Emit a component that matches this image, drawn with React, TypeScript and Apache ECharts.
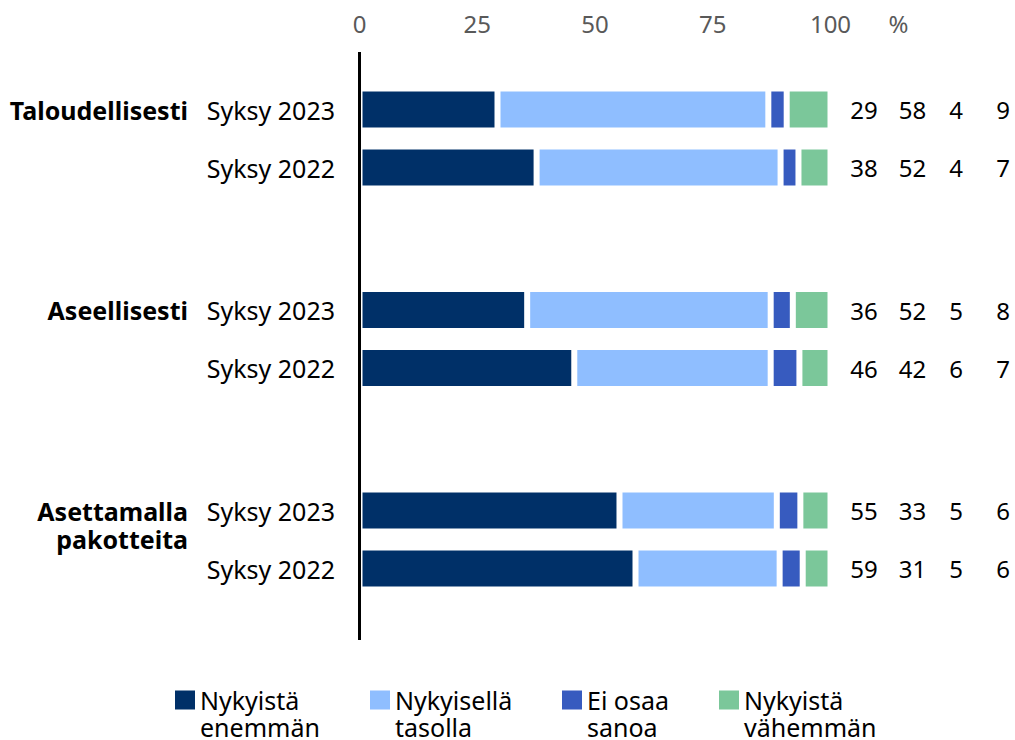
import React, { useEffect, useRef } from "react";
import * as echarts from "echarts";

// ---- data ----
const groups = ["Taloudellisesti", "Aseellisesti", "Asettamalla\npakotteita"];
const periods = ["Syksy 2023", "Syksy 2022"];
const seriesNames = ["Nykyistä\nenemmän", "Nykyisellä\ntasolla", "Ei osaa\nsanoa", "Nykyistä\nvähemmän"];
const colors = ["#003068", "#8fbeff", "#375bbf", "#7bc79a"];
// rows: [group0 2023, group0 2022, group1 2023, group1 2022, group2 2023, group2 2022]
const nykyistaEnemman = [29.3, 37.6, 35.6, 45.6, 55.2, 58.6];
const nykyisellaTasolla = [57.5, 51.8, 51.7, 41.7, 33.4, 30.6];
const eiOsaaSanoa = [3.9, 3.8, 4.7, 6.1, 5.0, 4.9];
const nykyistaVahemman = [9.3, 6.8, 8.0, 6.6, 6.4, 5.9];
const tickValues = [0, 25, 50, 75, 100];
const unitLabel = "%";

const seriesValues = [nykyistaEnemman, nykyisellaTasolla, eiOsaaSanoa, nykyistaVahemman];

const FONT = '"Noto Sans", sans-serif';

export default function App() {
  const ref = useRef<HTMLDivElement>(null);

  useEffect(() => {
    if (!ref.current) return;
    const chart = echarts.init(ref.current, null, { renderer: "svg" });

    const gridLeft = 359.5;
    const gridWidth = 471;
    const gridTops = [80.5, 281, 481.5];
    const gridHeight = 116;

    const grids = gridTops.map((t) => ({ left: gridLeft, top: t, width: gridWidth, height: gridHeight }));

    const xAxes = gridTops.map((_, g) => ({
      gridIndex: g,
      type: "value",
      min: 0,
      max: 100,
      interval: 25,
      position: "top",
      show: g === 0,
      axisLine: { show: false },
      axisTick: { show: false },
      splitLine: { show: false },
      axisLabel: {
        show: g === 0,
        margin: 57.5,
        verticalAlign: "middle",
        color: "#595959",
        fontSize: 24,
        fontFamily: FONT,
        customValues: tickValues,
      },
    }));

    const yAxes: any[] = [];
    gridTops.forEach((_, g) => {
      yAxes.push({
        gridIndex: g,
        type: "category",
        data: periods,
        inverse: true,
        position: "left",
        axisLine: { show: false },
        axisTick: { show: false },
        axisLabel: { margin: 24.5, color: "#000", fontSize: 25, fontFamily: FONT },
      });
      yAxes.push({
        gridIndex: g,
        type: "category",
        data: periods,
        inverse: true,
        position: "right",
        axisLine: { show: false },
        axisTick: { show: false },
        axisLabel: {
          margin: 9.5,
          color: "#000",
          fontSize: 24,
          fontFamily: FONT,
          formatter: (_v: string, i: number) => {
            const row = g * 2 + i;
            const vals = seriesValues.map((s) => Math.round(s[row]));
            return `{c1|${vals[0]}}{c2|${vals[1]}}{c3|${vals[2]}}{c4|${vals[3]}}`;
          },
          rich: {
            c1: { width: 48, align: "center", fontSize: 24, fontFamily: FONT, color: "#000" },
            c2: { width: 49, align: "center", fontSize: 24, fontFamily: FONT, color: "#000" },
            c3: { width: 38, align: "center", fontSize: 24, fontFamily: FONT, color: "#000" },
            c4: { width: 56, align: "center", fontSize: 24, fontFamily: FONT, color: "#000" },
          },
        },
      });
    });

    const series: any[] = [];
    gridTops.forEach((_, g) => {
      seriesNames.forEach((name, k) => {
        series.push({
          name,
          type: "bar",
          stack: "g" + g,
          xAxisIndex: g,
          yAxisIndex: g * 2,
          barWidth: 42,
          data: [seriesValues[k][g * 2], seriesValues[k][g * 2 + 1]],
          itemStyle: { color: colors[k], borderColor: "#fff", borderWidth: 3 },
        });
      });
    });

    // legend: icon aligned with the first text line
    const lineH = 26.5;
    const iconH = 19;
    const itemH = iconH + lineH;
    const iconTop = 690.5;
    const legendTop = iconTop - (lineH - itemH / 2);
    const legendLefts = [175, 370, 562, 719];
    const legends = seriesNames.map((name, k) => ({
      data: [name],
      left: legendLefts[k],
      top: legendTop,
      padding: 0,
      orient: "horizontal",
      selectedMode: false,
      itemWidth: 20,
      itemHeight: itemH,
      icon: `path://M0,0H20V${iconH}H0ZM0,${itemH - 0.1}L0,${itemH}`,
      itemStyle: { borderWidth: 0 },
      textStyle: { color: "#000", fontSize: 25, fontFamily: FONT, lineHeight: lineH },
    }));

    const graphics: any[] = [];
    groups.forEach((name, g) => {
      const lines = name.split("\n").length;
      const rowCenter = gridTops[g] + gridHeight / 4;
      graphics.push({
        type: "text",
        x: 188,
        y: rowCenter + ((lines - 1) * 28) / 2,
        style: {
          text: name,
          align: "right",
          verticalAlign: "middle",
          fontSize: 25,
          fontWeight: "bold",
          fontFamily: FONT,
          lineHeight: 28,
          fill: "#000",
        },
      });
    });
    graphics.push({
      type: "text",
      x: 898.5,
      y: 23,
      style: {
        text: unitLabel,
        align: "center",
        verticalAlign: "middle",
        fontSize: 24,
        fontFamily: FONT,
        fill: "#595959",
      },
    });
    graphics.push({
      type: "line",
      z: 100,
      shape: { x1: 359.5, y1: 52, x2: 359.5, y2: 640 },
      style: { stroke: "#000", lineWidth: 3 },
    });

    chart.setOption({
      animation: false,
      backgroundColor: "#fff",
      grid: grids,
      xAxis: xAxes,
      yAxis: yAxes,
      series,
      legend: legends,
      graphic: graphics,
    });

    return () => chart.dispose();
  }, []);

  return (
    <div
      ref={ref}
      style={{ position: "absolute", left: 0, top: 0, width: 1015, height: 740 }}
    />
  );
}
